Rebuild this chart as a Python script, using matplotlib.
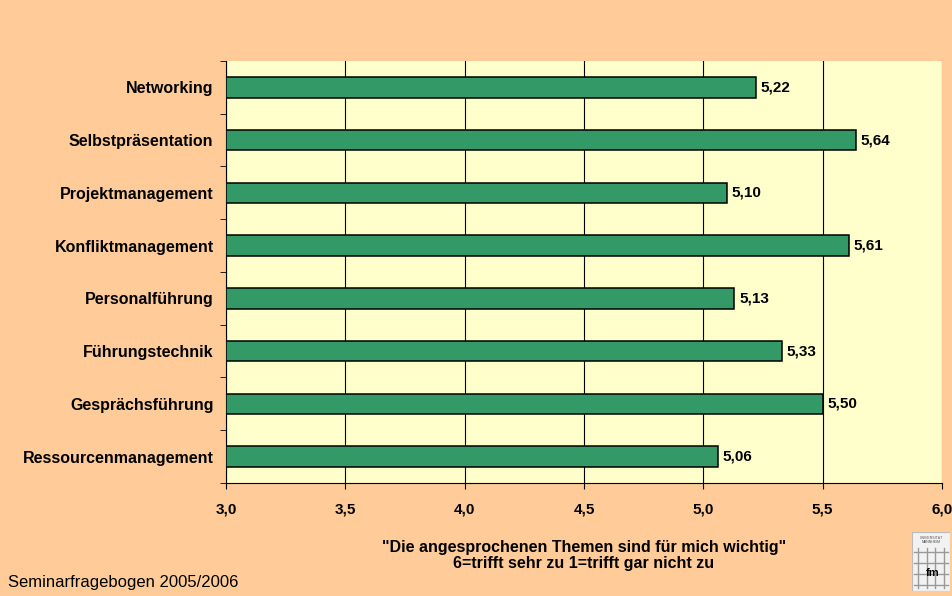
import matplotlib.pyplot as plt
import matplotlib.patches as patches
import numpy as np

plt.rcParams['font.family'] = ['Liberation Sans', 'DejaVu Sans']

categories = ['Networking', 'Selbstpräsentation', 'Projektmanagement', 'Konfliktmanagement',
              'Personalführung', 'Führungstechnik', 'Gesprächsführung', 'Ressourcenmanagement']
values = [5.22, 5.64, 5.10, 5.61, 5.13, 5.33, 5.50, 5.06]
xticks = [3.0, 3.5, 4.0, 4.5, 5.0, 5.5, 6.0]

fig = plt.figure(figsize=(9.52, 5.96), dpi=100, facecolor='#FFCC99')
ax = fig.add_axes([0.2374, 0.1896, 0.7521, 0.7081])
ax.set_facecolor('#FFFFCC')

y = np.arange(len(categories))
ax.barh(y, [v - 3.0 for v in values], left=3.0, height=0.39,
        color='#339966', edgecolor='black', linewidth=1.1, zorder=3)
for yi, v in zip(y, values):
    ax.text(v + 0.02, yi, f'{v:.2f}'.replace('.', ','), ha='left', va='center',
            fontsize=11, fontweight='bold', zorder=4)

ax.set_xlim(3.0, 6.0)
ax.set_ylim(len(categories) - 0.5, -0.5)
ax.set_xticks(xticks)
ax.set_xticklabels([f'{t:.1f}'.replace('.', ',') for t in xticks], fontsize=11, fontweight='bold')
ax.set_yticks(y)
ax.set_yticklabels(categories, fontsize=11.5, fontweight='bold')
ax.set_yticks(np.arange(-0.5, len(categories)), minor=True)
ax.tick_params(axis='y', which='major', length=0, pad=9)
ax.tick_params(axis='y', which='minor', length=4, direction='out')
ax.tick_params(axis='x', length=4, direction='out', pad=10)
ax.grid(axis='x', color='black', linewidth=0.8, zorder=1)
for s in ax.spines.values():
    s.set_color('black')
    s.set_linewidth(0.8)
ax.spines['top'].set_visible(False)
ax.spines['right'].set_visible(False)

ax.set_xlabel('"Die angesprochenen Themen sind für mich wichtig"\n6=trifft sehr zu 1=trifft gar nicht zu',
              fontsize=11.5, fontweight='bold', labelpad=17, linespacing=1.1)

fig.text(0.008, 0.015, 'Seminarfragebogen 2005/2006', fontsize=12, ha='left', va='baseline')

# small logo box
logo = fig.add_axes([0.958, 0.008, 0.04, 0.1])
logo.set_xlim(0, 1)
logo.set_ylim(0, 1)
logo.axis('off')
logo.add_patch(patches.Rectangle((0, 0), 1, 1, facecolor='#F2F2F2', edgecolor='#BBBBBB', linewidth=0.8))
for g in np.linspace(0.15, 0.85, 4):
    logo.plot([g, g], [0.05, 0.72], color='#999999', linewidth=1)
for g in np.linspace(0.1, 0.65, 4):
    logo.plot([0.05, 0.95], [g, g], color='#999999', linewidth=1)
logo.text(0.5, 0.86, 'UNIVERSITÄT\nMANNHEIM', fontsize=2.5, ha='center', va='center', color='#555555')
logo.text(0.55, 0.3, 'fm', fontsize=8, ha='center', va='center', fontweight='bold')

fig.savefig('out.png', dpi=100, facecolor=fig.get_facecolor())
